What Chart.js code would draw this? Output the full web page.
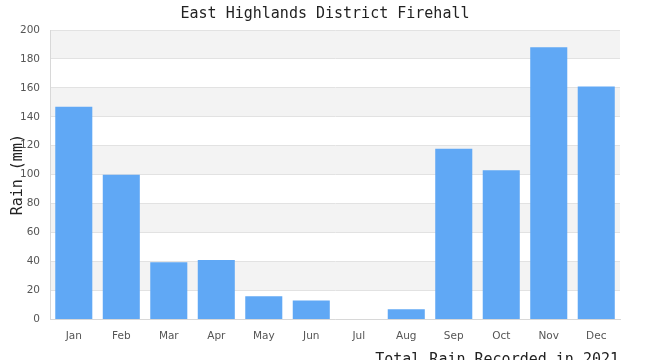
<!DOCTYPE html>
<html><head><meta charset="utf-8">
<script src="https://cdn.jsdelivr.net/npm/chart.js@4"></script>
<style>html,body{margin:0;padding:0;overflow:hidden;background:#fff;}#wrap{width:650px;height:360px;}</style>
</head><body>
<div id="wrap"><canvas id="c" width="650" height="360"></canvas></div>
<script>
const months = ["Jan","Feb","Mar","Apr","May","Jun","Jul","Aug","Sep","Oct","Nov","Dec"];
const rainMm = [147, 100, 39.5, 41, 16, 13, 0, 7, 118, 103, 188, 161];
const chartTitle = "East Highlands District Firehall";
const yTitle = "Rain (mm)";
const xTitle = "Total Rain Recorded in 2021";

const deco = {
  id: 'deco',
  beforeDraw(chart) {
    const {ctx, chartArea: a, scales: {y}} = chart;
    ctx.save();
    for (let v = 0; v < 200; v += 20) {
      if ((v / 20) % 2 === 1) {
        const top = y.getPixelForValue(v + 20), bot = y.getPixelForValue(v);
        ctx.fillStyle = '#f3f3f3';
        ctx.fillRect(a.left, top, a.right - a.left, bot - top);
      }
    }
    ctx.restore();
  },
  afterDraw(chart) {
    const {ctx, chartArea: a} = chart;
    ctx.save();
    ctx.font = '15px "DejaVu Sans Mono"';
    ctx.fillStyle = '#222';
    ctx.textAlign = 'center';
    ctx.textBaseline = 'middle';
    ctx.fillText(chartTitle, 325, 14);
    ctx.textAlign = 'right';
    ctx.textBaseline = 'alphabetic';
    ctx.fillText(xTitle, a.right - 1, 364);
    ctx.textAlign = 'center';
    ctx.textBaseline = 'middle';
    ctx.translate(18, (a.top + a.bottom) / 2);
    ctx.rotate(-Math.PI / 2);
    ctx.fillText(yTitle, 0, 0);
    ctx.restore();
  }
};

new Chart(document.getElementById('c'), {
  type: 'bar',
  data: { labels: months, datasets: [{ data: rainMm, backgroundColor: '#60a8f5', barPercentage: 0.78, categoryPercentage: 1 }] },
  plugins: [deco],
  options: {
    responsive: false, animation: false,
    layout: { padding: { left: 10, right: 30, top: 30, bottom: 6 } },
    plugins: { legend: { display: false }, tooltip: { enabled: false }, title: { display: false } },
    scales: {
      x: {
        grid: { display: false, drawTicks: false },
        border: { color: '#d8d8d8' },
        ticks: { color: '#555', font: { family: 'DejaVu Sans', size: 10.5 }, padding: 11 }
      },
      y: {
        min: 0, max: 200,
        ticks: { stepSize: 20, color: '#555', font: { family: 'DejaVu Sans', size: 10.5 }, padding: 10 },
        grid: { color: '#e2e2e2', drawTicks: false },
        border: { color: '#d8d8d8' }
      }
    }
  }
});
</script>
</body></html>
